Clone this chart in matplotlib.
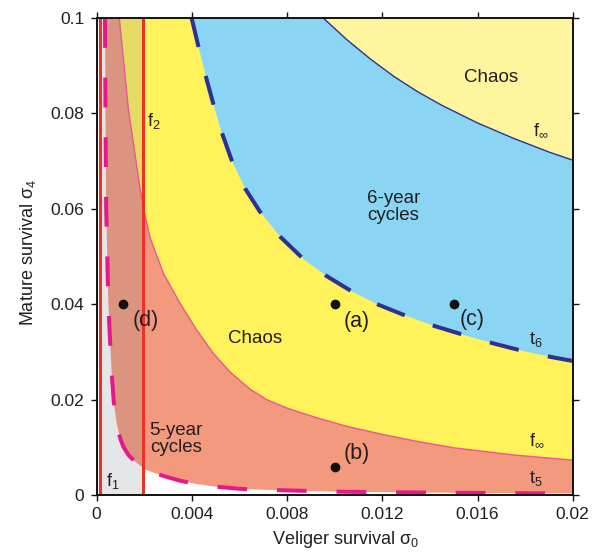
import matplotlib
matplotlib.use("Agg")
import matplotlib.pyplot as plt

plt.rcParams['font.family'] = ['Liberation Sans', 'DejaVu Sans']
plt.rcParams['mathtext.fontset'] = 'custom'
plt.rcParams['mathtext.rm'] = 'Liberation Sans'
plt.rcParams['mathtext.it'] = 'Liberation Sans:italic'

# ---- data ----
# t6 (dashed navy): lower boundary of the 6-year cycle region
t6_x = [0.00399, 0.00430, 0.00460, 0.00490, 0.00520, 0.00567, 0.00623, 0.00686, 0.0077, 0.0087,
        0.00966, 0.01071, 0.01183, 0.01303, 0.01421, 0.01546, 0.01665, 0.0179, 0.01912, 0.0200]
t6_y = [0.1000, 0.0935, 0.0875, 0.0820, 0.0768, 0.0702, 0.0643, 0.0594, 0.0542, 0.0494,
        0.0459, 0.0427, 0.0399, 0.0375, 0.0354, 0.0335, 0.0318, 0.0302, 0.0289, 0.0281]
# upper f_inf (thin navy): 6-year cycles / chaos boundary
fu_x = [0.00952, 0.0105, 0.0115, 0.0125, 0.0135, 0.0145, 0.0160, 0.0175, 0.0190, 0.0200]
fu_y = [0.1000, 0.0955, 0.0914, 0.0877, 0.0845, 0.0817, 0.0780, 0.0748, 0.0719, 0.0702]
# lower f_inf (thin pink): 5-year cycles / chaos boundary
fl_x = [0.00095, 0.00133, 0.00160, 0.00182, 0.00205, 0.00224, 0.0028, 0.0035, 0.0042, 0.0049,
        0.0056, 0.00644, 0.00714, 0.0080, 0.00924, 0.0105, 0.0120, 0.0135, 0.0150, 0.0175, 0.0200]
fl_y = [0.1000, 0.0810, 0.0718, 0.0643, 0.0582, 0.0540, 0.0465, 0.0402, 0.0346, 0.0297,
        0.0258, 0.0222, 0.0200, 0.0182, 0.0162, 0.0144, 0.0127, 0.0112, 0.0099, 0.0084, 0.0073]
# t5 (dashed magenta): lower boundary of 5-year cycles
t5_x = [0.00035, 0.00037, 0.00040, 0.00049, 0.00063, 0.00072, 0.00084, 0.00097, 0.00112, 0.00135,
        0.00161, 0.0021, 0.0028, 0.0035, 0.0042, 0.0049, 0.0060, 0.0070, 0.0085, 0.0100, 0.0140, 0.0200]
t5_y = [0.1000, 0.0800, 0.0600, 0.0400, 0.0255, 0.0195, 0.0150, 0.0122, 0.0101, 0.0083,
        0.0070, 0.0052, 0.0040, 0.0030, 0.0023, 0.0018, 0.0013, 0.0011, 0.0009, 0.0007, 0.0005, 0.0003]
# vertical boundaries
f1_x = 0.00015
f2_x = 0.00195
# marked points
pt_labels = ['(a)', '(b)', '(c)', '(d)']
pt_x = [0.0100, 0.0100, 0.0150, 0.0011]
pt_y = [0.0400, 0.0058, 0.0400, 0.0400]

xticks = [0, 0.004, 0.008, 0.012, 0.016, 0.02]
xtick_labels = ['0', '0.004', '0.008', '0.012', '0.016', '0.02']
yticks = [0, 0.02, 0.04, 0.06, 0.08, 0.1]
ytick_labels = ['0', '0.02', '0.04', '0.06', '0.08', '0.1']

XMAX, YMAX = 0.02, 0.1

# ---- colours ----
c_salmon = '#F3997D'
c_yellow = '#FFF25A'
c_blue = '#8BD5F4'
c_lyellow = '#FFF59E'
c_navy = '#2E3192'
c_magenta = '#E6198C'
c_pink = '#EC5597'
c_red = '#EE3124'
c_text = '#231F20'

fig = plt.figure(figsize=(6.08, 5.54), dpi=100)
ax = fig.add_axes([0.159, 0.1065, 0.783, 0.861])
ax.set_xlim(0, XMAX)
ax.set_ylim(0, YMAX)

def region_above(xs, ys):
    px = list(xs) + [XMAX, xs[0]]
    py = list(ys) + [YMAX, YMAX]
    return px, py

for xs, ys, col in [(t5_x, t5_y, c_salmon), (fl_x, fl_y, c_yellow),
                    (t6_x, t6_y, c_blue), (fu_x, fu_y, c_lyellow)]:
    px, py = region_above(xs, ys)
    ax.fill(px, py, color=col, lw=0, zorder=1)

ax.axvspan(f1_x, f2_x, color='#7d838e', alpha=0.2, lw=0, zorder=2)

ax.plot(fu_x, fu_y, color=c_navy, lw=1.0, zorder=3)
ax.plot(fl_x, fl_y, color=c_pink, lw=1.0, zorder=3)
ax.plot(t6_x, t6_y, color=c_navy, lw=2.9, dashes=(7.4, 7.4), zorder=4)
ax.plot(t5_x, t5_y, color=c_magenta, lw=2.9, dashes=(7.4, 7.4), zorder=4)
ax.axvline(f1_x, color=c_red, lw=2.2, zorder=5)
ax.axvline(f2_x, color=c_red, lw=2.2, zorder=5)

ax.plot(pt_x, pt_y, 'o', color='#111111', ms=6, zorder=6)

# labels
lbl_pos = {'(a)': (0.01092, 0.0363), '(b)': (0.01092, 0.0086),
           '(c)': (0.01579, 0.0367), '(d)': (0.00207, 0.0365)}
for lab in pt_labels:
    x, y = lbl_pos[lab]
    ax.text(x, y, lab, fontsize=15.5, ha='center', va='center', color=c_text, zorder=7)

ax.text(0.01657, 0.0876, 'Chaos', fontsize=13.5, ha='center', va='center', color=c_text, zorder=7)
ax.text(0.00664, 0.0328, 'Chaos', fontsize=13.5, ha='center', va='center', color=c_text, zorder=7)
ax.text(0.01246, 0.0604, '6-year\ncycles', fontsize=13.5, ha='center', va='center',
        color=c_text, linespacing=1.0, zorder=7)
ax.text(0.00333, 0.0117, '5-year\ncycles', fontsize=13.5, ha='center', va='center',
        color=c_text, linespacing=1.0, zorder=7)

ax.text(0.01835, 0.0765, r'f$_\infty$', fontsize=13, ha='left', va='center', color=c_text, zorder=7)
ax.text(0.01815, 0.0115, r'f$_\infty$', fontsize=13, ha='left', va='center', color=c_text, zorder=7)
ax.text(0.01815, 0.0325, r't$_6$', fontsize=13, ha='left', va='center', color=c_text, zorder=7)
ax.text(0.01815, 0.0035, r't$_5$', fontsize=13, ha='left', va='center', color=c_text, zorder=7)
ax.text(0.00210, 0.0785, r'f$_2$', fontsize=13, ha='left', va='center', color=c_text, zorder=7)
ax.text(0.00038, 0.0030, r'f$_1$', fontsize=13, ha='left', va='center', color=c_text, zorder=7)

# axes styling
for s in ax.spines.values():
    s.set_linewidth(1.4)
    s.set_color('#111111')
    s.set_zorder(8)
ax.set_xticks(xticks)
ax.set_xticklabels(xtick_labels)
ax.set_yticks(yticks)
ax.set_yticklabels(ytick_labels)
ax.tick_params(direction='out', length=4, width=1.0, labelsize=12.5, colors='#111111',
               labelcolor=c_text, pad=5, top=True, right=True)

ax.set_xlabel('Veliger survival σ$_0$', fontsize=13, color=c_text)
ax.set_ylabel('Mature survival σ$_4$', fontsize=13, color=c_text)
ax.xaxis.set_label_coords(0.522, -0.094)
ax.xaxis.label.set_va('center')
ax.yaxis.set_label_coords(-0.144, 0.509)
ax.yaxis.label.set_va('center')

fig.savefig('out.png', dpi=100)
